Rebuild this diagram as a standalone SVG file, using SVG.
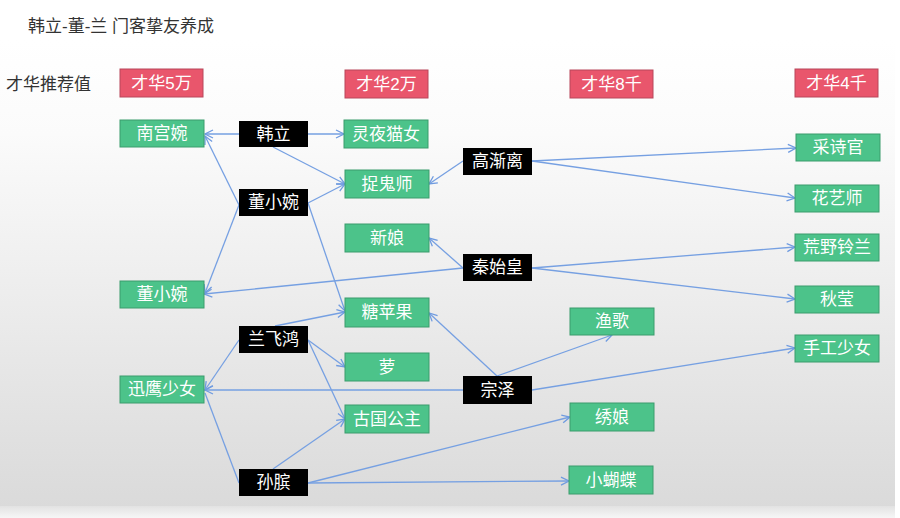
<svg xmlns="http://www.w3.org/2000/svg" width="900" height="518" viewBox="0 0 900 518">
<defs>
<linearGradient id="bg" x1="0" y1="0" x2="0" y2="1">
<stop offset="0" stop-color="#ffffff"/>
<stop offset="0.2" stop-color="#fbfbfb"/>
<stop offset="1" stop-color="#dadada"/>
</linearGradient>
<linearGradient id="bot" x1="0" y1="0" x2="0" y2="1">
<stop offset="0" stop-color="#e2e2e2"/>
<stop offset="1" stop-color="#f6f6f6"/>
</linearGradient>
<marker id="ar" markerWidth="10" markerHeight="10" refX="9" refY="5" orient="auto" markerUnits="userSpaceOnUse">
<path d="M1,1 L9,5 L1,9" fill="none" stroke="#6f9be0" stroke-width="1.3"/>
</marker>
<style>
text{font-family:"Liberation Sans","Noto Sans CJK SC",sans-serif;font-size:17px;}
.lbl{fill:#ffffff;text-anchor:middle;dominant-baseline:central;}
.red rect{fill:#e9566c;stroke:#b8475a;stroke-width:1;}
.g rect{fill:#4cc38a;stroke:#3a9c6c;stroke-width:1;}
.b rect{fill:#000000;}
.c line{stroke:#76a0e2;stroke-width:1.3;fill:none;marker-end:url(#ar);}
.c line.n{marker-end:none;}
.h{fill:#333333;}
</style>
</defs>
<rect x="0" y="0" width="900" height="518" fill="#ffffff"/>
<rect x="0" y="40" width="895" height="468" fill="url(#bg)"/>
<rect x="0" y="506" width="895" height="12" fill="url(#bot)"/>

<text class="h" x="28" y="32">韩立-董-兰 门客挚友养成</text>
<text class="h" x="6" y="90">才华推荐值</text>

<g id="h1" class="red"><rect x="120" y="69" width="83" height="28"/><text class="lbl" x="161.5" y="83">才华5万</text></g>
<g id="h2" class="red"><rect x="345" y="70" width="83" height="28"/><text class="lbl" x="386.5" y="84">才华2万</text></g>
<g id="h3" class="red"><rect x="570" y="70" width="83" height="28"/><text class="lbl" x="611.5" y="84">才华8千</text></g>
<g id="h4" class="red"><rect x="795" y="69" width="83" height="28"/><text class="lbl" x="836.5" y="83">才华4千</text></g>

<g id="connectors" class="c">
<line x1="239" y1="134" x2="205" y2="134"/>
<line x1="308" y1="134" x2="344" y2="134"/>
<line x1="273" y1="147" x2="345" y2="184"/>
<line x1="239" y1="205" x2="205" y2="136"/>
<line x1="239" y1="205" x2="205" y2="293"/>
<line x1="308" y1="203" x2="345" y2="184"/>
<line x1="308" y1="203" x2="345" y2="311"/>
<line x1="463" y1="161" x2="429" y2="184"/>
<line x1="532" y1="161" x2="796" y2="148"/>
<line x1="532" y1="161" x2="795" y2="198"/>
<line x1="463" y1="268" x2="429" y2="238"/>
<line x1="463" y1="268" x2="204" y2="294"/>
<line x1="532" y1="268" x2="795" y2="247"/>
<line x1="532" y1="268" x2="795" y2="299"/>
<line x1="275" y1="326" x2="345" y2="312"/>
<line x1="239" y1="340" x2="205" y2="390"/>
<line x1="308" y1="340" x2="345" y2="367"/>
<line x1="308" y1="340" x2="345" y2="419"/>
<line x1="497" y1="376" x2="429" y2="313"/>
<line x1="497" y1="376" x2="612" y2="335"/>
<line x1="463" y1="390" x2="205" y2="390"/>
<line x1="532" y1="390" x2="795" y2="348"/>
<line class="n" x1="239" y1="483" x2="205" y2="393"/>
<line x1="273" y1="469" x2="345" y2="419"/>
<line x1="308" y1="483" x2="570" y2="417"/>
<line x1="308" y1="483" x2="569" y2="481"/>
</g>

<g id="n-nangongwan" class="g"><rect x="120" y="120" width="84" height="27"/><text class="lbl" x="162" y="133.5">南宫婉</text></g>
<g id="n-dongxiaowan-g" class="g"><rect x="120" y="281" width="84" height="27"/><text class="lbl" x="162" y="294.5">董小婉</text></g>
<g id="n-xunying" class="g"><rect x="120" y="376" width="84" height="27"/><text class="lbl" x="162" y="389.5">迅鹰少女</text></g>
<g id="n-lingye" class="g"><rect x="344" y="120" width="84" height="28"/><text class="lbl" x="386" y="134">灵夜猫女</text></g>
<g id="n-zhuogui" class="g"><rect x="345" y="170" width="84" height="28"/><text class="lbl" x="387" y="184">捉鬼师</text></g>
<g id="n-xinniang" class="g"><rect x="345" y="224" width="84" height="28"/><text class="lbl" x="387" y="238">新娘</text></g>
<g id="n-tangpingguo" class="g"><rect x="345" y="298" width="84" height="29"/><text class="lbl" x="387" y="312.5">糖苹果</text></g>
<g id="n-luo" class="g"><rect x="345" y="353" width="84" height="28"/><text class="lbl" x="387" y="367">萝</text></g>
<g id="n-guguo" class="g"><rect x="345" y="405" width="84" height="28"/><text class="lbl" x="387" y="419">古国公主</text></g>
<g id="n-yuge" class="g"><rect x="570" y="308" width="84" height="27"/><text class="lbl" x="612" y="321.5">渔歌</text></g>
<g id="n-xiuniang" class="g"><rect x="570" y="403" width="84" height="28"/><text class="lbl" x="612" y="417">绣娘</text></g>
<g id="n-xiaohudie" class="g"><rect x="569" y="466" width="84" height="28"/><text class="lbl" x="611" y="480">小蝴蝶</text></g>
<g id="n-caishi" class="g"><rect x="796" y="134" width="84" height="27"/><text class="lbl" x="838" y="147.5">采诗官</text></g>
<g id="n-huayi" class="g"><rect x="795" y="185" width="84" height="27"/><text class="lbl" x="837" y="198.5">花艺师</text></g>
<g id="n-huangye" class="g"><rect x="795" y="234" width="84" height="27"/><text class="lbl" x="837" y="247.5">荒野铃兰</text></g>
<g id="n-qiuying" class="g"><rect x="795" y="286" width="84" height="27"/><text class="lbl" x="837" y="299.5">秋莹</text></g>
<g id="n-shougong" class="g"><rect x="795" y="335" width="84" height="27"/><text class="lbl" x="837" y="348.5">手工少女</text></g>

<g id="b-hanli" class="b"><rect x="239" y="121" width="69" height="26"/><text class="lbl" x="273.5" y="134">韩立</text></g>
<g id="b-dongxiaowan" class="b"><rect x="239" y="189" width="69" height="27"/><text class="lbl" x="273.5" y="202.5">董小婉</text></g>
<g id="b-gaojianli" class="b"><rect x="463" y="148" width="69" height="27"/><text class="lbl" x="497.5" y="161.5">高渐离</text></g>
<g id="b-qinshihuang" class="b"><rect x="463" y="254" width="69" height="27"/><text class="lbl" x="497.5" y="267.5">秦始皇</text></g>
<g id="b-lanfeihong" class="b"><rect x="239" y="326" width="69" height="27"/><text class="lbl" x="273.5" y="339.5">兰飞鸿</text></g>
<g id="b-zongze" class="b"><rect x="463" y="376" width="69" height="28"/><text class="lbl" x="497.5" y="390">宗泽</text></g>
<g id="b-sunbin" class="b"><rect x="239" y="469" width="69" height="27"/><text class="lbl" x="273.5" y="482.5">孙膑</text></g>
</svg>
